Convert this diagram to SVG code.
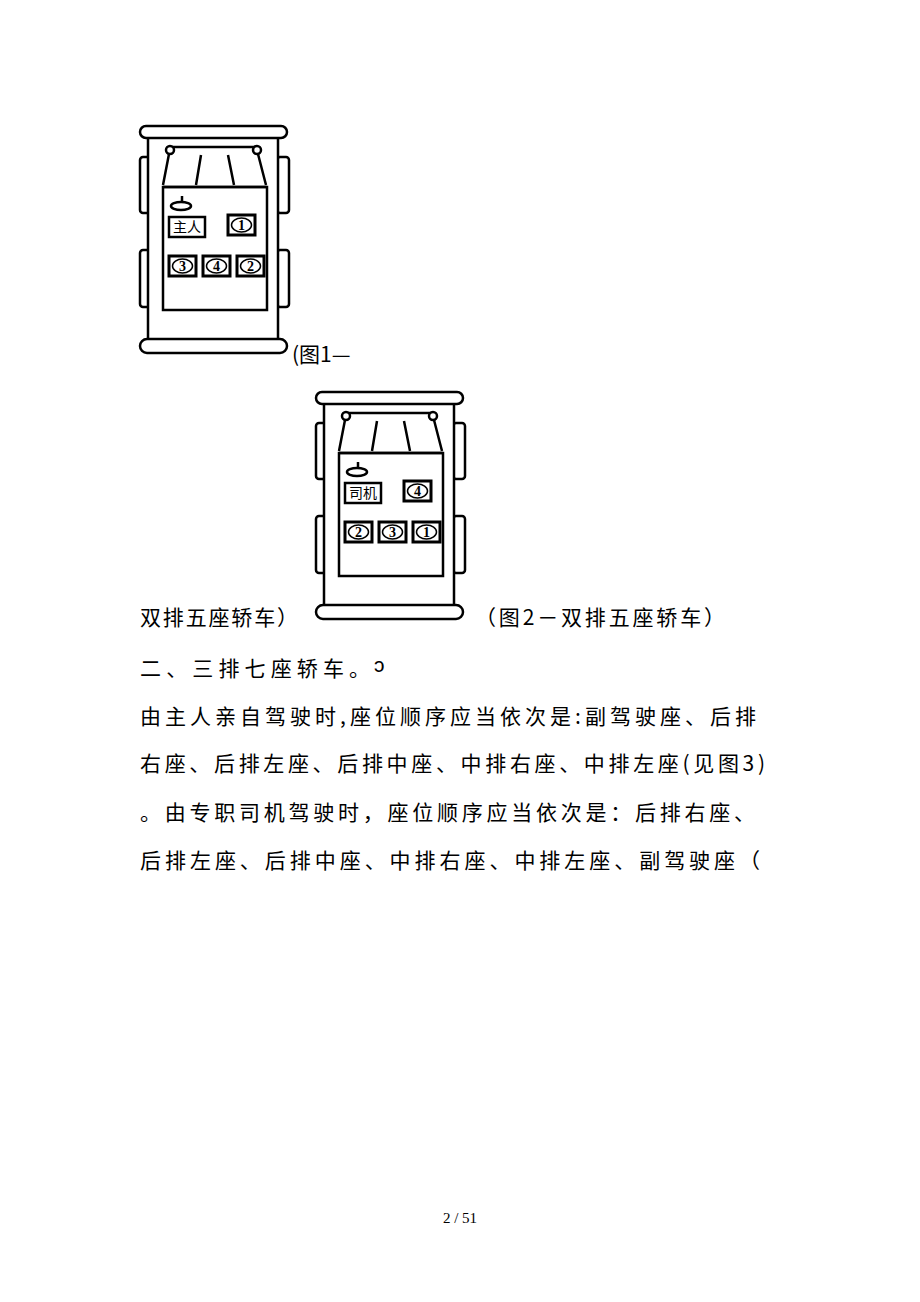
<svg xmlns="http://www.w3.org/2000/svg" width="920" height="1302" viewBox="0 0 920 1302">
<style>
.l{fill:none;stroke:#000;stroke-width:2.5}
.f{fill:#fff;stroke:#000;stroke-width:2.5}
.s{fill:#fff;stroke:#000;stroke-width:3}
.n{font-family:"Liberation Serif",serif;font-size:14px;font-weight:bold}
.lb{font-family:"Noto Sans CJK SC",sans-serif;font-size:14px}
.t{font-family:"Noto Sans CJK SC",sans-serif;font-size:21px;fill:#000}
</style>
<defs>
<g id="car">
<rect x="140" y="157" width="11" height="56" rx="3" class="f"/>
<rect x="140" y="250" width="11" height="57" rx="3" class="f"/>
<rect x="277" y="157" width="12" height="56" rx="3" class="f"/>
<rect x="277" y="250" width="12" height="57" rx="3" class="f"/>
<rect x="148" y="134" width="130" height="212" class="f"/>
<rect x="140" y="126" width="147" height="12" rx="6" class="f"/>
<rect x="140" y="339" width="147" height="14" rx="7" class="f"/>
<rect x="163" y="187" width="104" height="123" class="f"/>
<line x1="169" y1="147" x2="258" y2="147" class="l"/>
<circle cx="170" cy="150" r="4" class="f"/><circle cx="257" cy="150" r="4" class="f"/>
<path d="M169 154 L163 185 M258 154 L266 185 M201 155 L196 185 M228 155 L234 185" class="l" stroke-width="1.5"/>
<line x1="163" y1="187" x2="267" y2="187" class="l"/>
<line x1="182" y1="196" x2="182" y2="205" class="l"/>
<ellipse cx="181" cy="206" rx="10" ry="4" class="f"/>
</g>
<g id="seat"><rect x="0" y="0" width="27" height="20" class="s"/><ellipse cx="13.5" cy="10" rx="10" ry="7" fill="#fff" stroke="#000" stroke-width="1.5"/></g>
</defs>
<g id="car1">
<use href="#car"/>
<rect x="169" y="217" width="36" height="20" class="f"/><text x="187" y="232" text-anchor="middle" class="lb">主人</text>
<use href="#seat" x="228" y="215"/><text x="241.5" y="230" text-anchor="middle" class="n">1</text>
<use href="#seat" x="169" y="256"/><text x="182.5" y="271" text-anchor="middle" class="n">3</text>
<use href="#seat" x="203" y="256"/><text x="216.5" y="271" text-anchor="middle" class="n">4</text>
<use href="#seat" x="237" y="256"/><text x="250.5" y="271" text-anchor="middle" class="n">2</text>
</g>
<g id="car2" transform="translate(176,266)">
<use href="#car"/>
<rect x="169" y="217" width="36" height="20" class="f"/><text x="187" y="232" text-anchor="middle" class="lb">司机</text>
<use href="#seat" x="228" y="215"/><text x="241.5" y="230" text-anchor="middle" class="n">4</text>
<use href="#seat" x="169" y="256"/><text x="182.5" y="271" text-anchor="middle" class="n">2</text>
<use href="#seat" x="203" y="256"/><text x="216.5" y="271" text-anchor="middle" class="n">3</text>
<use href="#seat" x="237" y="256"/><text x="250.5" y="271" text-anchor="middle" class="n">1</text>
</g>
<g id="text">
<text x="292" y="362" class="t">(图1—</text>
<text x="140" y="625" class="t" textLength="158">双排五座轿车）</text>
<text x="475" y="625" class="t" textLength="250">（图2－双排五座轿车）</text>
<text x="140" y="676" class="t" textLength="230">二、三排七座轿车。</text>
<text x="374" y="672" class="t" font-size="14">ↄ</text>
<text x="140" y="724" class="t" textLength="616">由主人亲自驾驶时,座位顺序应当依次是:副驾驶座、后排</text>
<text x="140" y="771" class="t" textLength="625">右座、后排左座、后排中座、中排右座、中排左座(见图3)</text>
<text x="140" y="820" class="t" textLength="615">。由专职司机驾驶时，座位顺序应当依次是：后排右座、</text>
<text x="140" y="868" class="t" textLength="620">后排左座、后排中座、中排右座、中排左座、副驾驶座（</text>
<text x="460" y="1223" text-anchor="middle" font-family="Liberation Serif,serif" font-size="15">2 / 51</text>
</g>
</svg>
